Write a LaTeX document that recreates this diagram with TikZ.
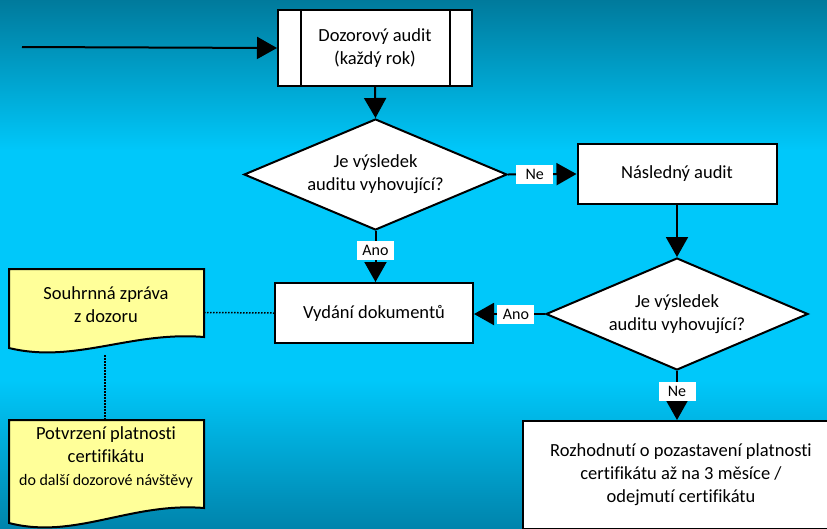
\documentclass[tikz,border=0pt]{standalone}
\usepackage{fontspec}
\setmainfont{Carlito}[Ligatures={NoCommon}]
\usetikzlibrary{shapes.geometric,arrows.meta}
\definecolor{bgtop}{RGB}{0,122,156}
\definecolor{bgmid}{RGB}{0,200,250}
\definecolor{bgbot}{RGB}{0,132,172}
\definecolor{docyellow}{RGB}{255,255,153}
\tikzset{
  bigfont/.style={font=\fontsize{18.5}{23}\selectfont},
  procbox/.style={draw=black, line width=2pt, fill=white, bigfont, align=center, inner sep=0pt},
  decision/.style={diamond, draw=black, line width=2pt, fill=white, bigfont, align=center, inner sep=0pt, aspect=2.37},
  lab/.style={fill=white, font=\fontsize{16}{18}\selectfont, inner sep=2pt, minimum width=37pt, minimum height=19pt},
  arr/.style={line width=2pt, -{Triangle[length=20pt,width=22pt]}},
  dotline/.style={line width=1.5pt, dash pattern=on 1.5pt off 1.5pt},
  docshape/.style={draw=black, line width=2pt, fill=docyellow},
  doctext/.style={bigfont, align=center, inner sep=0pt}
}
\begin{document}
\begin{tikzpicture}[x=1pt, y=-1pt]
\path[use as bounding box] (0,0) rectangle (827,528);
\clip (0,0) rectangle (827,528);
% background
\shade[top color=bgtop, bottom color=bgmid] (0,0) rectangle (827,151);
\fill[bgmid] (0,150) rectangle (827,381);
\shade[top color=bgmid, bottom color=bgbot] (0,380) rectangle (827,528);

% nodes
\node[procbox, minimum width=194pt, minimum height=76pt] (b1) at (375,48) {Dozorový audit\\(každý rok)};
\draw[line width=2pt] ([xshift=24pt]b1.north west) -- ([xshift=24pt]b1.south west);
\draw[line width=2pt] ([xshift=-23pt]b1.north east) -- ([xshift=-23pt]b1.south east);

\node[decision, minimum width=263pt, minimum height=111pt] (d1) at (375.5,174.5) {Je výsledek\\auditu vyhovující?};
\node[procbox, minimum width=199pt, minimum height=60pt] (b2) at (677,174) {Následný audit};
\node[decision, minimum width=262pt, minimum height=112pt] (d2) at (677,314) {Je výsledek\\auditu vyhovující?};
\node[procbox, minimum width=198pt, minimum height=60pt] (b3) at (374,313) {Vydání dokumentů};
\node[procbox, minimum width=316pt, minimum height=108pt] (b4) at (681,475) {Rozhodnutí o pozastavení platnosti\\certifikátu až na 3 měsíce /\\odejmutí certifikátu};

% documents
\filldraw[docshape] (9,269) -- (204,269) -- (204,337) .. controls (130,331) and (75,364) .. (9,348) -- cycle;
\node[doctext] (doc1) at (106,305) {Souhrnná zpráva\\z dozoru};
\filldraw[docshape] (9,420) -- (204,420) -- (204,508) .. controls (130,502) and (75,540) .. (9,523) -- cycle;
\node[doctext] (doc2) at (106,457) {Potvrzení platnosti\\certifikátu\\{\fontsize{16}{20}\selectfont do další dozorové návštěvy}};

% coordinates for free ends
\coordinate (start) at (22,47);
\coordinate (doc1r) at (204,312.5);
\coordinate (doc1b) at (105,355);
\coordinate (doc2t) at (105,420);

% connectors
\draw[arr] (start) -- (b1.west);
\draw[arr] (b1.south) -- (d1.north);
\draw[arr] (d1.east) -- node[lab, pos=0.39] {Ne} (b2.west);
\draw[arr] (b2.south) -- (d2.north);
\draw[arr] (d1.south) -- node[lab, pos=0.39] {Ano} (b3.north -| d1.south);
\draw[arr] (d2.west) -- node[lab, pos=0.41] {Ano} (b3.east |- d2.west);
\draw[arr] (d2.south) -- node[lab, pos=0.41] {Ne} (d2.south |- b4.north);
\draw[dotline] (doc1r) -- (b3.west);
\draw[dotline] (doc1b) -- (doc2t);
\end{tikzpicture}
\end{document}
